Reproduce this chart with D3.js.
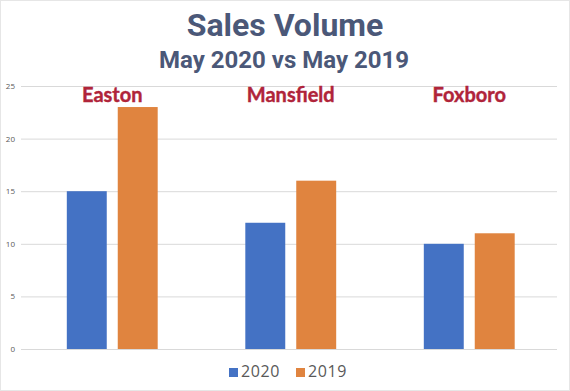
<!DOCTYPE html>
<html><head><meta charset="utf-8">
<script src="https://cdn.jsdelivr.net/npm/d3@7"></script>
<style>body{margin:0;background:#fff}svg{display:block}</style>
</head><body>
<script>
const categories = ["Easton", "Mansfield", "Foxboro"];
const series = ["2020", "2019"];
const values2020 = [15, 12, 10];
const values2019 = [23, 16, 11];
const yTicks = [0, 5, 10, 15, 20, 25];
const colors = ["#4472C4", "#E0843F"];

const W = 570, H = 391;
const svg = d3.select("body").append("svg").attr("width", W).attr("height", H);
svg.append("rect").attr("x", 0.5).attr("y", 0.5).attr("width", W - 1).attr("height", H - 1)
  .attr("fill", "#fff").attr("stroke", "#e6e6e6");

const mLeft = 21, mRight = 557, mTop = 86, mBottom = 349;
const x = d3.scaleBand().domain(categories).range([23, 558.5]);
const xs = d3.scaleBand().domain(series).range([0, x.bandwidth()]).paddingInner(0.216).paddingOuter(0.86);
const y = d3.scaleLinear().domain([0, 25]).range([mBottom, mTop]);

const yAxis = d3.axisLeft(y).tickValues(yTicks).tickSize(-(mRight - mLeft)).tickPadding(8);
const gy = svg.append("g").attr("transform", `translate(${mLeft},0)`).call(yAxis);
gy.select(".domain").remove();
gy.selectAll(".tick line").attr("stroke", "#d9d9d9");
gy.selectAll(".tick text").attr("fill", "#595959").style("font-family", "Open Sans, sans-serif").style("font-size", "8px").attr("x", -6);

const data = categories.map((c, i) => ({ c, vals: [values2020[i], values2019[i]] }));
const g = svg.selectAll(".cat").data(data).enter().append("g").attr("transform", d => `translate(${x(d.c)},0)`);
g.selectAll("rect").data(d => d.vals.map((v, j) => ({ s: series[j], v, j }))).enter().append("rect")
  .attr("x", d => xs(d.s)).attr("width", xs.bandwidth())
  .attr("y", d => y(d.v)).attr("height", d => y(0) - y(d.v))
  .attr("fill", d => colors[d.j]);

g.append("text").attr("x", x.bandwidth() / 2).attr("y", 102).attr("text-anchor", "middle")
  .attr("fill", "#B0243A").attr("stroke", "#B0243A").attr("stroke-width", 0.4)
  .style("font-family", "Lato, sans-serif").style("font-weight", "bold").style("font-size", "20px")
  .text(d => d.c);

svg.append("text").attr("x", 285).attr("y", 36).attr("text-anchor", "middle").attr("fill", "#4B5878")
  .style("font-family", "Roboto, sans-serif").style("font-weight", "bold").style("font-size", "32px").text("Sales Volume");
svg.append("text").attr("x", 284).attr("y", 68).attr("text-anchor", "middle").attr("fill", "#4B5878")
  .style("font-family", "Roboto, sans-serif").style("font-weight", "bold").style("font-size", "24px").text("May 2020 vs May 2019");

const leg = svg.append("g");
const lx = [229, 296];
series.forEach((s, i) => {
  leg.append("rect").attr("x", lx[i]).attr("y", 368).attr("width", 9).attr("height", 9).attr("fill", colors[i]);
  leg.append("text").attr("x", lx[i] + 12).attr("y", 377).attr("fill", "#595959")
    .style("font-family", "Open Sans, sans-serif").style("font-size", "16px").style("letter-spacing", "0.6px").text(s);
});
</script>
</body></html>
